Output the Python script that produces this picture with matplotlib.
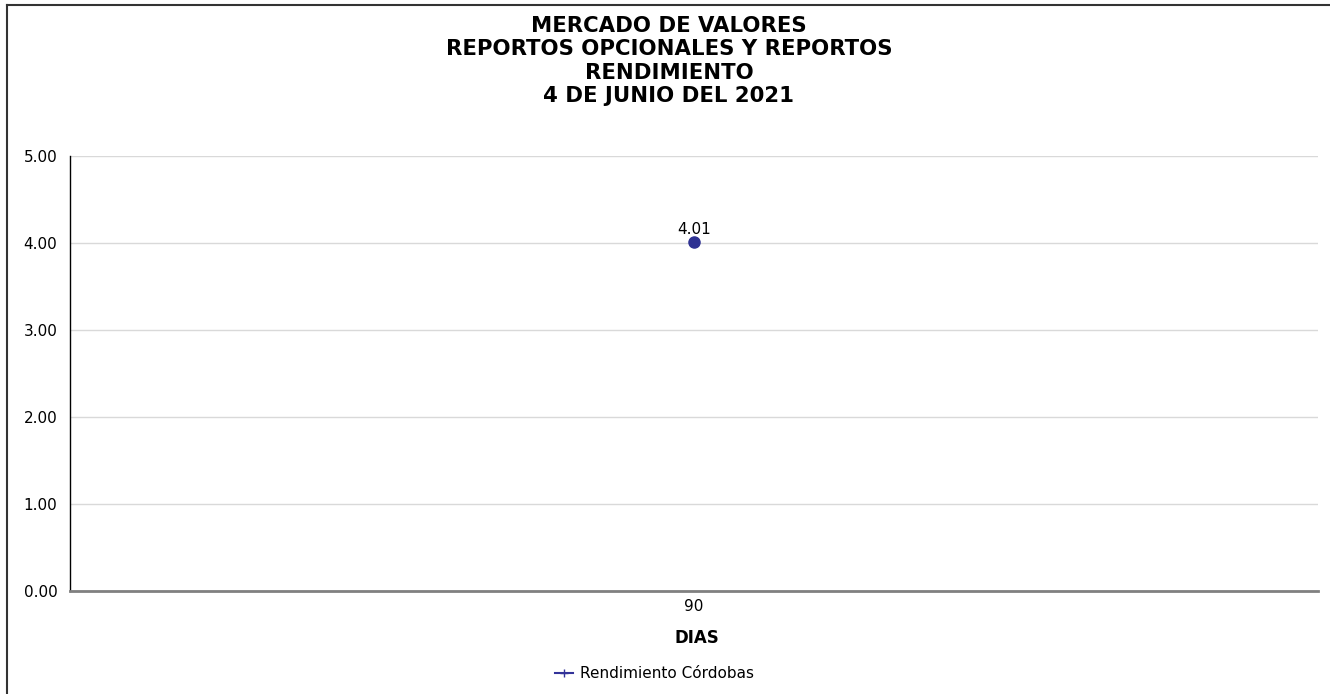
import matplotlib.pyplot as plt
from matplotlib.lines import Line2D

# datos
dias = ["90"]
rendimiento_cordobas = [4.01]
y_ticks = [0, 1, 2, 3, 4, 5]
titulo = ["MERCADO DE VALORES", "REPORTOS OPCIONALES Y REPORTOS",
          "RENDIMIENTO", "4 DE JUNIO DEL 2021"]

plt.rcParams['font.family'] = ['DejaVu Sans']

fig = plt.figure(figsize=(13.3, 6.94), dpi=100)
ax = fig.add_axes([0.0526, 0.1484, 0.9384, 0.6268])

x = list(range(len(dias)))
color = '#2E3192'
ax.plot(x, rendimiento_cordobas, color=color, marker='o', markersize=8,
        linewidth=1.5, label='Rendimiento Córdobas')
for xi, v in zip(x, rendimiento_cordobas):
    ax.annotate(f"{v:.2f}", (xi, v), xytext=(0, 4), textcoords='offset points',
                ha='center', va='bottom', fontsize=11)

ax.set_xlim(-0.5, len(dias) - 0.5)
ax.set_ylim(0, 5)
ax.set_xticks(x)
ax.set_xticklabels(dias, fontsize=11)
ax.set_yticks(y_ticks)
ax.set_yticklabels([f"{t:.2f}" for t in y_ticks], fontsize=11)
ax.tick_params(axis='x', length=0, pad=6)
ax.tick_params(axis='y', length=0, pad=9)
ax.grid(axis='y', color='#d9d9d9', linewidth=1)
ax.set_axisbelow(True)

for s in ['top', 'right']:
    ax.spines[s].set_visible(False)
ax.spines['left'].set_color('black')
ax.spines['left'].set_linewidth(1)
ax.spines['bottom'].set_color('#808080')
ax.spines['bottom'].set_linewidth(2)

ax.set_xlabel('DIAS', fontsize=12, fontweight='bold', va='center')
ax.xaxis.set_label_coords(0.502, -0.108)

# leyenda
handle = Line2D([], [], color='#333399', marker='+', markersize=6, linewidth=1.5)
fig.legend([handle], ['Rendimiento Córdobas'], loc='center', bbox_to_anchor=(0.492, 0.029),
           frameon=False, fontsize=11, handlelength=1.2, handletextpad=0.45)

# titulo
for i, t in enumerate(titulo):
    fig.text(0.503, 1 - (26 + 23.3 * i) / 694, t, ha='center', va='center',
             fontsize=15.3, fontweight='bold')

# borde
fig.add_artist(Line2D([7 / 1330, 7 / 1330], [0, 1 - 5 / 694], color='#333333',
                      linewidth=1.5, transform=fig.transFigure))
fig.add_artist(Line2D([7 / 1330, 1], [1 - 5 / 694, 1 - 5 / 694], color='#333333',
                      linewidth=1.5, transform=fig.transFigure))

fig.savefig('out.png', dpi=100)
